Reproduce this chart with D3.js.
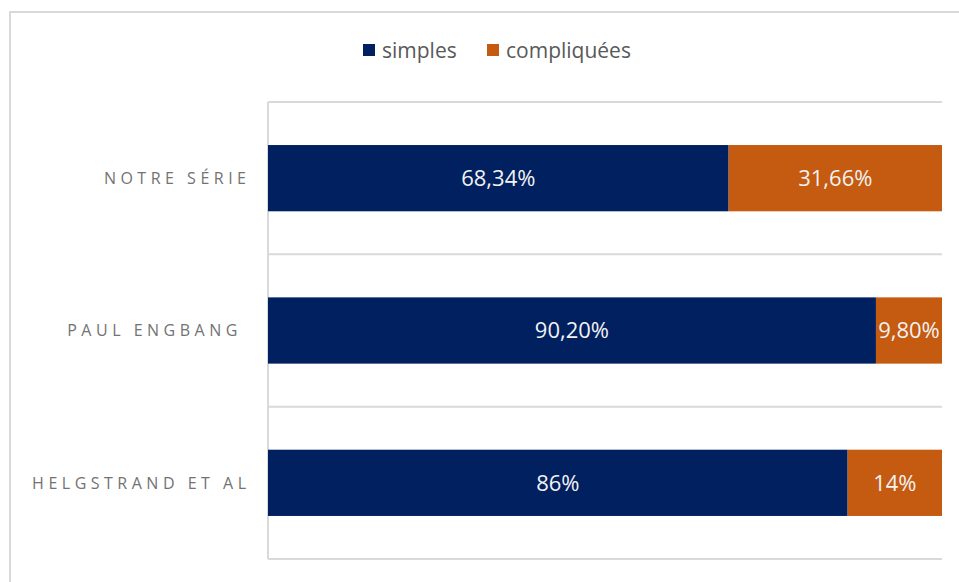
<!DOCTYPE html>
<html><head><meta charset="utf-8">
<script src="https://cdn.jsdelivr.net/npm/d3@7"></script>
<style>
html,body{margin:0;padding:0;background:#fff;}
svg{display:block;font-family:"Open Sans","Noto Sans",sans-serif;}
</style></head>
<body><svg id="chart" width="959" height="582"></svg>
<script>
const categories = ["NOTRE SÉRIE", "PAUL ENGBANG ", "HELGSTRAND ET AL"];
const simples = [68.34, 90.20, 86];
const compliquees = [31.66, 9.80, 14];
const simplesLabels = ["68,34%", "90,20%", "86%"];
const compliqueesLabels = ["31,66%", "9,80%", "14%"];
const seriesNames = ["simples", "compliquées"];
const colors = ["#002060", "#c55a11"];

(function () {
const svg = d3.select("#chart");
// outer chart border
svg.append("rect").attr("x", 10).attr("y", 12).attr("width", 960).attr("height", 600)
  .attr("fill", "none").attr("stroke", "#d9d9d9").attr("stroke-width", 2);

const pLeft = 268, pRight = 942, pTop = 102, pBottom = 559;
const x = d3.scaleLinear().domain([0, 100]).range([pLeft, pRight]);
const y = d3.scaleBand().domain(categories).range([pTop, pBottom]).paddingInner(0.565).paddingOuter(0.2825);
const yb = d3.scaleBand().domain(categories).range([pTop, pBottom]);

// gridlines at category boundaries
const bounds = [pTop].concat(categories.map(c => yb(c) + yb.bandwidth()));
svg.append("g").selectAll("line").data(bounds).join("line")
  .attr("x1", pLeft).attr("x2", pRight).attr("y1", d => d).attr("y2", d => d)
  .attr("stroke", "#d9d9d9").attr("stroke-width", 2);
// axis line
svg.append("line").attr("x1", pLeft).attr("x2", pLeft).attr("y1", pTop).attr("y2", pBottom)
  .attr("stroke", "#d9d9d9").attr("stroke-width", 2);

const data = categories.map((c, i) => ({c, s: simples[i], k: compliquees[i], sl: simplesLabels[i], kl: compliqueesLabels[i]}));
const g = svg.append("g");
g.selectAll(".bs").data(data).join("rect").attr("class", "bs")
  .attr("x", x(0)).attr("y", d => y(d.c)).attr("width", d => x(d.s) - x(0)).attr("height", y.bandwidth())
  .attr("fill", colors[0]);
g.selectAll(".bk").data(data).join("rect").attr("class", "bk")
  .attr("x", d => x(d.s)).attr("y", d => y(d.c)).attr("width", d => x(d.s + d.k) - x(d.s)).attr("height", y.bandwidth())
  .attr("fill", colors[1]);
g.selectAll(".ls").data(data).join("text").attr("class", "ls")
  .attr("x", d => (x(0) + x(d.s)) / 2).attr("y", d => y(d.c) + y.bandwidth() / 2).attr("dy", "0.36em")
  .attr("text-anchor", "middle").attr("fill", "#f2f2f2").attr("font-size", 22).text(d => d.sl);
g.selectAll(".lk").data(data).join("text").attr("class", "lk")
  .attr("x", d => (x(d.s) + x(d.s + d.k)) / 2).attr("y", d => y(d.c) + y.bandwidth() / 2).attr("dy", "0.36em")
  .attr("text-anchor", "middle").attr("fill", "#f2f2f2").attr("font-size", 22).text(d => d.kl);

// category labels
svg.append("g").selectAll("text").data(categories).join("text")
  .attr("x", 250.5).attr("y", d => y(d) + y.bandwidth() / 2).attr("dy", "0.36em")
  .attr("text-anchor", "end").attr("fill", "#737373").attr("font-size", 16)
  .attr("letter-spacing", "4.5px").style("white-space", "pre").text(d => d);

// legend
const legendX = [363, 487];
const lg = svg.append("g");
seriesNames.forEach((n, i) => {
  lg.append("rect").attr("x", legendX[i]).attr("y", 44).attr("width", 12).attr("height", 12).attr("fill", colors[i]);
  lg.append("text").attr("x", legendX[i] + 19).attr("y", 50).attr("dy", "0.36em")
    .attr("fill", "#595959").attr("font-size", 21).text(n);
});
})();
</script></body></html>
